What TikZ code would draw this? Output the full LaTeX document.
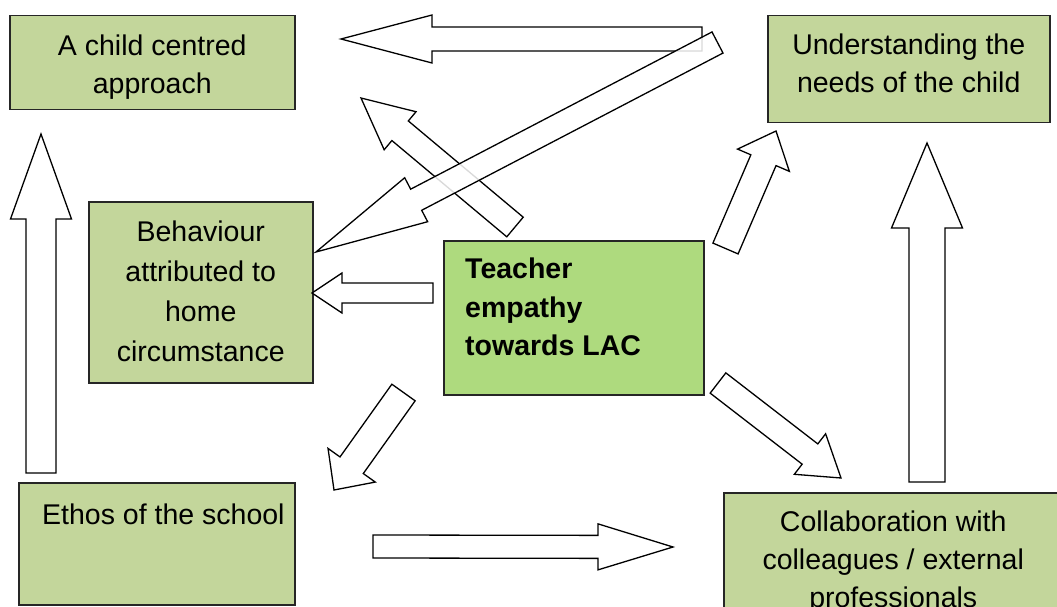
\documentclass[tikz,border=0pt]{standalone}
\usepackage{fontspec}
\setmainfont{Liberation Sans}
\usetikzlibrary{calc}

\definecolor{olivebox}{HTML}{C3D69B}
\definecolor{corebox}{HTML}{AEDA7E}

\tikzset{
  x=1pt, y=-1pt,
  box/.style={draw=black!85, line width=1.5pt, fill=olivebox, inner sep=0pt,
    anchor=north west},
  boxtext/.style={font=\fontsize{28.5}{38}\selectfont, align=center, inner sep=0pt},
  cornertext/.style={font=\fontsize{28.5}{38.5}\selectfont, align=left, inner sep=0pt,
    anchor=north west},
  blockarrow/.style={draw=black, line width=1.3pt, fill=white, line join=miter},
}

% Block arrow: [options]{tail}{tip}{shaft half width}{head half width}{head length}
\newcommand\blockarrow[6][]{%
  \coordinate (ba-tail) at (#2);
  \coordinate (ba-tip) at (#3);
  \coordinate (ba-base) at ($(ba-tip)!#6!(ba-tail)$);
  \path[blockarrow,#1]
    ($(ba-tail)!#4!90:(ba-tip)$) -- ($(ba-base)!#4!90:(ba-tip)$)
    -- ($(ba-base)!#5!90:(ba-tip)$) -- (ba-tip)
    -- ($(ba-base)!#5!-90:(ba-tip)$) -- ($(ba-base)!#4!-90:(ba-tip)$)
    -- ($(ba-tail)!#4!-90:(ba-tip)$) -- cycle;
}

\begin{document}
\begin{tikzpicture}
  \useasboundingbox (0,0) rectangle (1057,607);
  \clip (0,0) rectangle (1057,607);

  % boxes
  \node[box, minimum width=285pt, minimum height=94pt]  (child)   at (9,15)   {};
  \node[box, minimum width=282pt, minimum height=107pt] (needs)   at (767,15) {};
  \node[box, minimum width=224pt, minimum height=181pt] (behav)   at (88,201) {};
  \node[box, fill=corebox, minimum width=260pt, minimum height=154pt] (teacher) at (443,240) {};
  \node[box, minimum width=276pt, minimum height=122pt] (ethos)   at (18,482) {};
  \node[box, minimum width=347pt, minimum height=136pt] (collab)  at (723,492) {};

  % texts
  \node[boxtext] (childtext)  at ($(child.center)+(0,4)$)  {A child centred\\approach};
  \node[boxtext] (needstext)  at ($(needs.center)+(0,-6)$) {Understanding the\\needs of the child};
  \node[boxtext, font=\fontsize{28.5}{40}\selectfont] (behavtext) at ($(behav.center)+(0,-1)$)
    {Behaviour\\attributed to\\home\\circumstance};
  \node[boxtext] (collabtext) at ($(collab.center)+(-4,1)$) {Collaboration with\\colleagues / external\\professionals};
  \node[cornertext, font=\fontsize{28.5}{38.5}\selectfont\bfseries] (teachertext) at (465,258)
    {Teacher\\empathy\\towards LAC};
  \node[cornertext] (ethostext) at (42,504) {Ethos of the school};

  % arrows
  \blockarrow{702,39}{341,39}{12pt}{24pt}{91pt}            % needs -> child
  \blockarrow{515,227}{361,98}{12.8pt}{24.8pt}{51pt}      % teacher -> child
  \blockarrow{433,293}{312,293}{10pt}{20pt}{30pt}          % teacher -> behaviour
  \blockarrow{403.5,392.5}{334,490}{14.3pt}{29pt}{30.4pt}  % teacher -> ethos
  \blockarrow{373,546.5}{673,547}{11.5pt}{23pt}{75pt}      % ethos -> collab
  \blockarrow{725.5,248.5}{776,131}{13.7pt}{28.2pt}{31.8pt} % teacher -> needs
  \blockarrow{718,383}{841,478}{12.8pt}{25.6pt}{39.2pt}    % teacher -> collab
  \blockarrow{927,482}{927,143}{18pt}{35.5pt}{85pt}        % collab -> needs
  \blockarrow{41,473}{41,134}{15pt}{30.5pt}{85pt}          % ethos -> child
  \blockarrow[fill opacity=0.85]{717.5,42.5}{316,252}{11.9pt}{24.8pt}{113pt} % needs -> behaviour
\end{tikzpicture}
\end{document}
